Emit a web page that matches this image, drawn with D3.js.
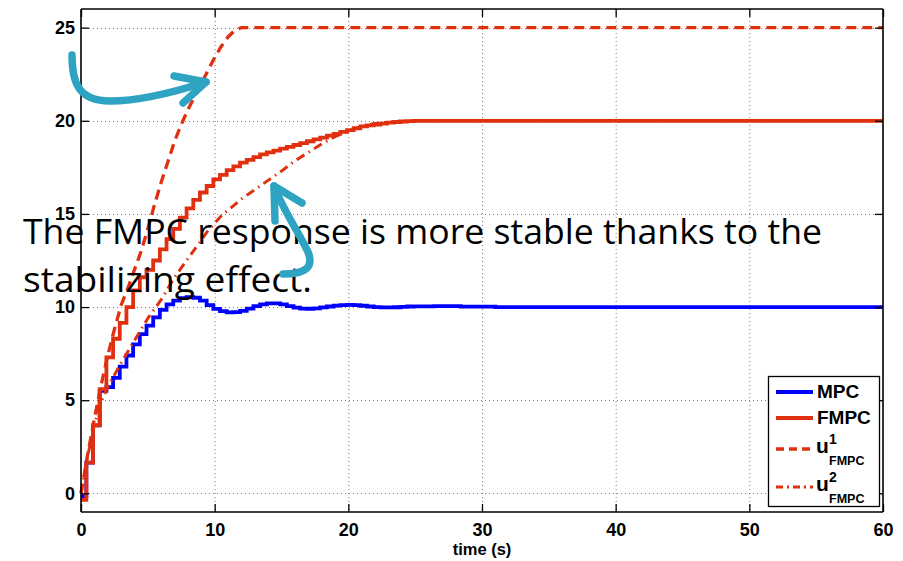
<!DOCTYPE html>
<html>
<head>
<meta charset="utf-8">
<script src="https://cdn.jsdelivr.net/npm/d3@7/dist/d3.min.js"></script>
<style>
  body { margin: 0; background: #fff; }
  svg { display: block; }
</style>
</head>
<body>
<svg id="chart" width="903" height="561"></svg>
<script>
// Controller sample instants (values hold until the next sample)
const stepTimes = [0, 0.4, 0.9, 1.4, 1.9, 2.4, 2.9, 3.4, 3.9, 4.4, 4.9, 5.4, 5.9, 6.4, 6.9,
  7.4, 7.9, 8.4, 8.9, 9.4, 9.9, 10.4, 10.9, 11.4, 11.9, 12.4, 12.9, 13.4, 13.9, 14.4,
  14.9, 15.4, 15.9, 16.4, 16.9, 17.4, 17.9, 18.4, 18.9, 19.4, 19.9, 20.4, 20.9, 21.4,
  21.9, 22.4, 22.9, 23.4, 23.9, 24.4, 24.9, 26.4, 28.4, 31, 60];

const mpcValues = [-0.15, 1.65, 3.65, 5.5, 5.7, 6.2, 6.8, 7.4, 8.0, 8.55, 9.0, 9.45, 9.85, 10.15, 10.35,
  10.48, 10.53, 10.5, 10.35, 10.1, 9.9, 9.78, 9.72, 9.73, 9.8, 9.92, 10.05, 10.15, 10.2, 10.2,
  10.14, 10.05, 9.97, 9.92, 9.91, 9.93, 9.98, 10.03, 10.08, 10.11, 10.12, 10.1, 10.07, 10.03,
  10.0, 9.98, 9.98, 9.99, 10.01, 10.03, 10.04, 10.05, 10.02, 10.0, 10.0];

const fmpcValues = [-0.35, 1.65, 3.65, 5.6, 7.3, 8.3, 9.15, 10.0, 10.9, 11.6, 12.0, 12.5, 13.1, 13.65, 14.2,
  14.8, 15.3, 15.75, 16.15, 16.5, 16.85, 17.1, 17.35, 17.55, 17.75, 17.9, 18.05, 18.2, 18.3, 18.4,
  18.5, 18.6, 18.7, 18.8, 18.9, 19.0, 19.1, 19.2, 19.3, 19.4, 19.5, 19.6, 19.7, 19.75,
  19.8, 19.85, 19.9, 19.93, 19.96, 19.98, 20.0, 20.0, 20.0, 20.0, 20.0];

// Reference trajectories
const u1Times = [0, 0.5, 1, 1.5, 2, 2.5, 3, 3.5, 4, 4.5, 5, 5.5, 6, 6.5, 7, 7.5, 8, 8.5, 9, 9.5,
  10, 10.5, 11, 11.5, 12, 60];
const u1Values = [0, 2.1, 4.0, 5.8, 7.4, 8.8, 10.1, 11.0, 12.0, 13.0, 14.2, 15.5, 16.7, 17.8, 18.9,
  19.8, 20.6, 21.3, 22.0, 22.7, 23.4, 24.0, 24.5, 24.85, 25.0, 25.0];

const u2Times = [0, 0.5, 1, 1.5, 2, 2.5, 3, 3.5, 4, 4.5, 5, 5.5, 6, 6.5, 7, 7.5, 8, 8.5, 9, 9.5,
  10, 10.5, 11, 12, 13, 14, 15, 16, 17, 18, 19, 20, 21, 22, 23, 24, 25, 60];
const u2Values = [0, 2.0, 3.7, 4.9, 5.7, 6.35, 7.0, 7.6, 8.2, 8.8, 9.4, 9.9, 10.4, 11.0, 11.6, 12.1,
  12.6, 13.1, 13.6, 14.1, 14.5, 14.9, 15.2, 15.8, 16.3, 16.8, 17.3, 17.85, 18.3, 18.75, 19.15,
  19.45, 19.7, 19.85, 19.93, 19.98, 20.0, 20.0];

const xTicks = [0, 10, 20, 30, 40, 50, 60];
const yTicks = [0, 5, 10, 15, 20, 25];
const xLabel = "time (s)";
const noteLines = ["The FMPC response is more stable thanks to the", "stabilizing effect."];

const RED = "#e0300f", BLUE = "#0000ff", CYAN = "#2fa4c2";

const svg = d3.select("#chart");
svg.append("rect").attr("width", 903).attr("height", 561).attr("fill", "#fff");

const pLeft = 81, pRight = 883, pTop = 9, pBottom = 512;
const x = d3.scaleLinear().domain([0, 60]).range([pLeft, pRight]);
const y = d3.scaleLinear().domain([-1, 26]).range([pBottom, pTop]);

// dotted grid
const grid = svg.append("g").attr("stroke", "#7a7a7a").attr("stroke-width", 1)
  .attr("stroke-dasharray", "1,3");
grid.selectAll("line.gx").data(xTicks.slice(1, -1)).join("line")
  .attr("x1", d => x(d) + 0.5).attr("x2", d => x(d) + 0.5).attr("y1", pTop).attr("y2", pBottom);
grid.selectAll("line.gy").data(yTicks).join("line")
  .attr("y1", d => Math.round(y(d)) + 0.5).attr("y2", d => Math.round(y(d)) + 0.5)
  .attr("x1", pLeft).attr("x2", pRight);

// series
const seriesDefs = [
  { name: "MPC", xs: stepTimes, ys: mpcValues, color: BLUE, width: 3.8, dash: null, curve: d3.curveStepAfter },
  { name: "FMPC", xs: stepTimes, ys: fmpcValues, color: RED, width: 3.8, dash: null, curve: d3.curveStepAfter },
  { name: "u1", xs: u1Times, ys: u1Values, color: RED, width: 3.3, dash: "10,6", curve: d3.curveLinear },
  { name: "u2", xs: u2Times, ys: u2Values, color: RED, width: 3, dash: "9,5,1.5,5", curve: d3.curveLinear }
];

const plot = svg.append("g");
seriesDefs.forEach(s => {
  const line = d3.line().x(d => x(d[0])).y(d => y(d[1])).curve(s.curve);
  plot.append("path")
    .datum(s.xs.map((t, i) => [t, s.ys[i]]))
    .attr("d", line)
    .attr("fill", "none")
    .attr("stroke", s.color)
    .attr("stroke-width", s.width)
    .attr("stroke-dasharray", s.dash)
    .attr("stroke-linejoin", "miter");
});

// axes (box with inward ticks)
const fontAxis = "'Liberation Sans', Arial, sans-serif";
const axB = svg.append("g").attr("transform", `translate(0,${pBottom})`)
  .call(d3.axisBottom(x).tickValues(xTicks).tickSizeInner(-8).tickSizeOuter(0).tickPadding(11));
const axL = svg.append("g").attr("transform", `translate(${pLeft},0)`)
  .call(d3.axisLeft(y).tickValues(yTicks).tickSizeInner(-8).tickSizeOuter(0).tickPadding(6));
const axT = svg.append("g").attr("transform", `translate(0,${pTop})`)
  .call(d3.axisTop(x).tickValues(xTicks).tickSizeInner(-8).tickSizeOuter(0).tickFormat(""));
const axR = svg.append("g").attr("transform", `translate(${pRight},0)`)
  .call(d3.axisRight(y).tickValues(yTicks).tickSizeInner(-8).tickSizeOuter(0).tickFormat(""));
[axB, axL, axT, axR].forEach(a => {
  a.select(".domain").attr("stroke", "#000").attr("stroke-width", 1.6);
  a.selectAll(".tick line").attr("stroke", "#000").attr("stroke-width", 1.3);
  a.selectAll(".tick text").attr("font-family", fontAxis).attr("font-weight", "bold")
    .attr("font-size", 18).attr("fill", "#000");
});
// domain paths only span the scale range; extend them to the full box
axL.select(".domain").attr("d", `M0,${pTop}V${pBottom}`);
axR.select(".domain").attr("d", `M0,${pTop}V${pBottom}`);
axB.select(".domain").attr("d", `M${pLeft},0H${pRight}`);
axT.select(".domain").attr("d", `M${pLeft},0H${pRight}`);

svg.append("text").attr("x", (pLeft + pRight) / 2).attr("y", 555)
  .attr("text-anchor", "middle").attr("font-family", fontAxis).attr("font-weight", "bold")
  .attr("font-size", 16.5).text(xLabel);

// legend
const lg = svg.append("g");
lg.append("rect").attr("x", 768.5).attr("y", 376.5).attr("width", 111).attr("height", 130)
  .attr("fill", "#fff").attr("stroke", "#000").attr("stroke-width", 1.3);
const legendRows = [392, 418, 449, 487];
seriesDefs.forEach((s, i) => {
  const ly = legendRows[i];
  lg.append("line").attr("x1", 776).attr("x2", 813).attr("y1", ly).attr("y2", ly)
    .attr("stroke", s.color).attr("stroke-width", s.width)
    .attr("stroke-dasharray", s.dash ? (i === 2 ? "8,5" : "7,4,2,4") : null);
});
const lt = (txt, xx, yy, fs) => lg.append("text").attr("x", xx).attr("y", yy)
  .attr("font-family", fontAxis).attr("font-weight", "bold").attr("font-size", fs).text(txt);
lt("MPC", 817, 398, 19);
lt("FMPC", 817, 424, 19);
[["1", 453], ["2", 491]].forEach(([k, by]) => {
  lt("u", 816, by, 21);
  lt(k, 829, by - 9, 14);
  lt("FMPC", 829, by + 12, 12.5);
});

// annotation text
const note = svg.append("g").attr("font-family", "'Open Sans', 'DejaVu Sans', sans-serif")
  .attr("font-size", 35).attr("fill", "#000");
note.append("text").attr("x", 23).attr("y", 244).attr("textLength", 799)
  .attr("lengthAdjust", "spacingAndGlyphs").text(noteLines[0]);
note.append("text").attr("x", 23).attr("y", 292).attr("textLength", 289)
  .attr("lengthAdjust", "spacingAndGlyphs").text(noteLines[1]);

// hand-drawn arrows
const arrows = svg.append("g").attr("fill", "none").attr("stroke", CYAN)
  .attr("stroke-width", 7.5).attr("stroke-linecap", "round").attr("stroke-linejoin", "round");
arrows.append("path").attr("d", "M72,55 C72,82 78,101 110,101 C140,101 175,92 206,82");
arrows.append("path").attr("d", "M174,76 L206,82 L183,103");
arrows.append("path").attr("d", "M274,186 C285,214 300,234 308,252 C314,267 306,274 283,274");
arrows.append("path").attr("d", "M275,221 L274,186 L302,203");
</script>
</body>
</html>
